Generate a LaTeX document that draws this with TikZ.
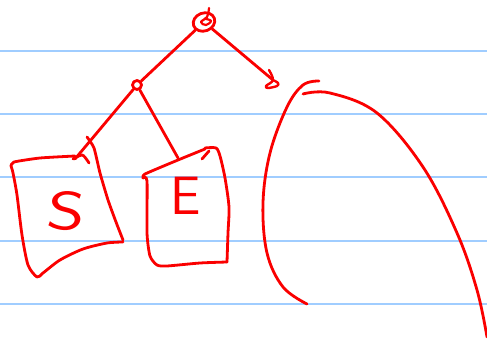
\documentclass[tikz,border=0pt]{standalone}
\usetikzlibrary{shapes.geometric}
\definecolor{penred}{RGB}{250,0,0}
\definecolor{ruleblue}{RGB}{160,205,255}
\begin{document}
\begin{tikzpicture}[x=1pt,y=-1pt,
  pen/.style={draw=penred, line width=2.8pt, line cap=round, line join=round},
  rule/.style={draw=ruleblue, line width=1.6pt},
  letter/.style={text=penred, font=\sffamily\fontsize{54}{54}\selectfont, inner sep=0pt}]
\useasboundingbox (0,0) rectangle (487,347);
% ruled paper
\foreach \y in {51,114,177,241,304} \draw[rule] (0,\y) -- (487,\y);
% tree nodes
\node[pen, ellipse, minimum width=22pt, minimum height=18pt, inner sep=0pt, rotate=20] (root) at (204,22) {};
\draw[pen, line width=2.2pt] plot[smooth, tension=0.7] coordinates {(209,8) (207,17) (201,22) (206,25) (211,21) (206,19)};
\node[pen, circle, minimum size=9pt, inner sep=0pt] (mid) at (137,85) {};
\coordinate (leaf) at (273,80);
\coordinate (stop) at (75,159);
\coordinate (etop) at (178,158);
% connectors
\draw[pen] (root) -- (mid);
\draw[pen] (root) -- (leaf);
\draw[pen, line width=2.4pt] plot[smooth, tension=0.6] coordinates {(269,70) (273,80) (266,86) (268,88) (277,86) (278,83) (273,80)};
\draw[pen] (mid) -- (stop);
\draw[pen] (mid) -- (etop);
% S box
\draw[pen] plot[smooth, tension=0.35] coordinates {(11,166) (14,162) (40,158) (75,156)};
\draw[pen] plot[smooth, tension=0.5] coordinates {(73,159) (82,155) (87,160) (89,163)};
\draw[pen] plot[smooth, tension=0.35] coordinates {(87,137) (94,148) (100,173) (108,200) (116,222) (123,240)};
\draw[pen] plot[smooth, tension=0.45] coordinates {(123,242) (107,243) (83,249) (60,260) (43,273) (37,277) (28,265) (22,235) (17,195) (13,173) (11,166)};
\node[letter, xscale=1.35, rotate=-5] (S) at (67,211) {S};
% E box
\draw[pen] plot[smooth, tension=0.3] coordinates {(143,178) (145,174) (178,160) (205,149)};
\draw[pen] (202,159) -- (209,151);
\draw[pen] plot[smooth, tension=0.45] coordinates {(205,148) (216,148) (220,156) (225,178) (229,207) (228,233) (227,262)};
\draw[pen] plot[smooth, tension=0.4] coordinates {(227,262) (200,263) (167,266) (157,265) (150,256) (147,233) (147,181) (143,178)};
\node[letter] (E) at (186,196) {E};
% arcs
\draw[pen] plot[smooth, tension=0.6] coordinates {(319,81) (303,85) (287,107) (270,153) (263,203) (267,253) (283,287) (307,304)};
\draw[pen] plot[smooth, tension=0.6] coordinates {(303,94) (330,93) (377,113) (423,167) (457,233) (477,290) (487,337)};
\end{tikzpicture}
\end{document}
